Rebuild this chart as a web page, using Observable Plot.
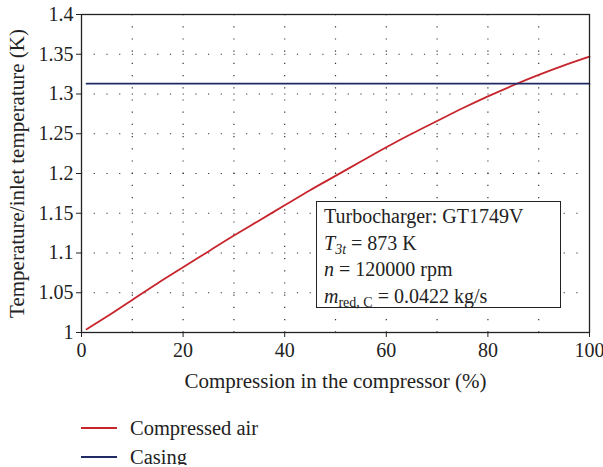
<!DOCTYPE html>
<html>
<head>
<meta charset="utf-8">
<script src="https://cdn.jsdelivr.net/npm/d3@7"></script>
<script src="https://cdn.jsdelivr.net/npm/@observablehq/plot@0.6"></script>
<style>
  body { margin: 0; background: #fff; font-family: "Liberation Serif", serif; }
  #wrap { position: relative; width: 603px; }
  #chart svg { display: block; }
  #chart svg, #chart svg text { font-family: "Liberation Serif", serif !important; }
  #info { position: absolute; left: 316px; top: 201px; width: 245px; height: 107px;
          border: 1.3px solid #222; background: #fff; font-size: 20px; line-height: 26.5px;
          padding: 1px 0 0 7px; box-sizing: border-box; color: #222; white-space: nowrap; }
  #info sub { font-size: 14px; vertical-align: -4px; line-height: 0; }
  #legend { position: relative; height: 60px; }
  .row { position: absolute; left: 81px; display: flex; align-items: center; font-size: 20.5px; line-height: 20px; height: 20px; color: #222; }
  .sw { width: 36px; height: 0; border-top: 2px solid; margin-right: 13px; }
</style>
</head>
<body>
<div id="wrap">
  <div id="chart"></div>
  <div id="info">
    Turbocharger: GT1749V<br>
    <i>T</i><sub><i>3t</i></sub> = 873 K<br>
    <i>n</i> = 120000 rpm<br>
    <i>m</i><sub>red, C</sub> = 0.0422 kg/s
  </div>
  <div id="legend"></div>
</div>
<script>
const compression = [1, 5, 10, 15, 20, 25, 30, 35, 40, 45, 50, 55, 60, 65, 70, 75, 80, 85, 90, 95, 100];
const compressedAir = [1.004, 1.020, 1.041, 1.062, 1.082, 1.102, 1.122, 1.141, 1.160, 1.179, 1.197, 1.215, 1.233, 1.250, 1.266, 1.282, 1.297, 1.311, 1.324, 1.336, 1.347];
const casingX = [1, 100];
const casingY = [1.313, 1.313];
const seriesNames = ["Compressed air", "Casing"];
const seriesColors = ["#c8242c", "#1f2a66"];
const xTicks = [0, 20, 40, 60, 80, 100];
const xGrid = [10, 20, 30, 40, 50, 60, 70, 80, 90];
const yTicks = [1, 1.05, 1.1, 1.15, 1.2, 1.25, 1.3, 1.35, 1.4];
const yGrid = [1.05, 1.1, 1.15, 1.2, 1.25, 1.3, 1.35];

const air = compression.map((x, i) => ({x, y: compressedAir[i]}));
const casing = casingX.map((x, i) => ({x, y: casingY[i]}));

const chart = Plot.plot({
  width: 603,
  height: 405,
  marginLeft: 81,
  marginRight: 14,
  marginTop: 14,
  marginBottom: 73,
  style: {fontFamily: "'Liberation Serif', serif", fontSize: "20px", color: "#222"},
  x: {domain: [0, 100]},
  y: {domain: [1, 1.4]},
  marks: [
    Plot.ruleX(xGrid, {stroke: "#333", strokeWidth: 1.2, strokeDasharray: "1.2,11", strokeOpacity: 1}),
    Plot.ruleY(yGrid, {stroke: "#333", strokeWidth: 1.2, strokeDasharray: "1.2,11.5", strokeOpacity: 1}),
    Plot.line(air, {x: "x", y: "y", stroke: seriesColors[0], strokeWidth: 1.8, curve: "monotone-x"}),
    Plot.line(casing, {x: "x", y: "y", stroke: seriesColors[1], strokeWidth: 1.8}),
    Plot.frame({stroke: "#222", strokeWidth: 1.3}),
    Plot.axisX({ticks: xTicks, tickSize: 5, tickPadding: 5, fontSize: 20,
      label: null}),
    Plot.axisX({ticks: [], tickSize: 0, fontSize: 21,
      label: "Compression in the compressor (%)", labelAnchor: "center", labelOffset: 55, labelArrow: "none"}),
    Plot.axisY({ticks: yTicks, tickSize: 5, tickPadding: 3, fontSize: 20,
      tickFormat: d => String(+d.toFixed(2)),
      label: null}),
    Plot.axisY({ticks: [], tickSize: 0, fontSize: 21,
      label: "Temperature/inlet temperature (K)", labelAnchor: "center", labelOffset: 72, labelArrow: "none"})
  ]
});
document.getElementById("chart").appendChild(chart);

const legend = document.getElementById("legend");
seriesNames.forEach((name, i) => {
  const row = document.createElement("div");
  row.className = "row";
  row.style.top = (13 + i * 29) + "px";
  row.innerHTML = `<span class="sw" style="border-color:${seriesColors[i]}"></span><span>${name}</span>`;
  legend.appendChild(row);
});
</script>
</body>
</html>
